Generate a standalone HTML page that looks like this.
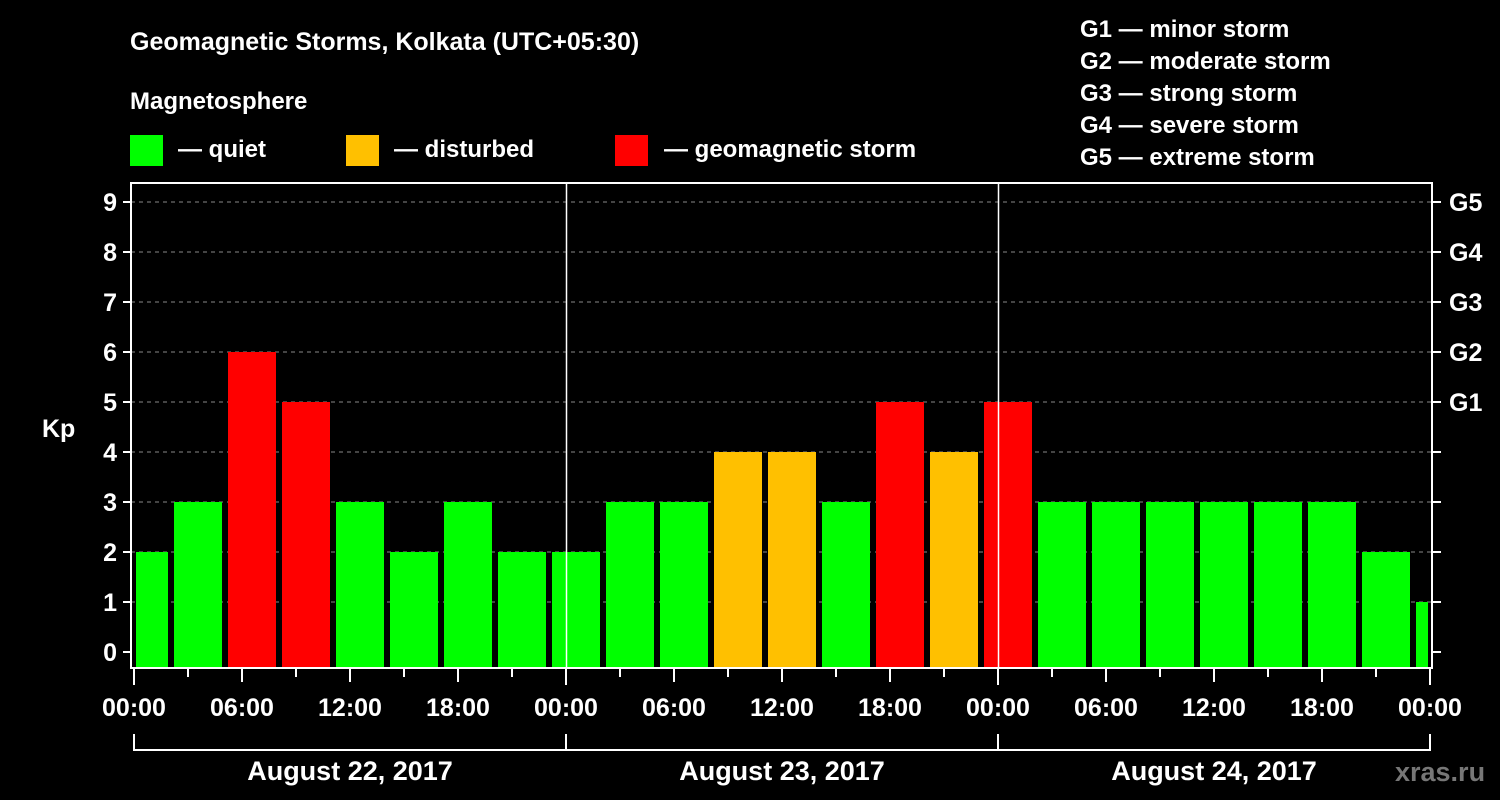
<!DOCTYPE html>
<html><head><meta charset="utf-8"><style>
body{margin:0;background:#000;width:1500px;height:800px;overflow:hidden}
svg{display:block}
text{font-family:"Liberation Sans",Arial,sans-serif;font-weight:bold;fill:#fff}
</style></head><body>
<svg id="c" width="1500" height="800">
<text x="130" y="50" font-size="25">Geomagnetic Storms, Kolkata (UTC+05:30)</text>
<text x="130" y="109" font-size="24">Magnetosphere</text>
<g><rect x="130" y="135" width="33" height="31" fill="#00ff00"/><text x="178" y="157" font-size="24">— quiet</text></g>
<g><rect x="346" y="135" width="33" height="31" fill="#ffc000"/><text x="394" y="157" font-size="24">— disturbed</text></g>
<g><rect x="615" y="135" width="33" height="31" fill="#ff0000"/><text x="664" y="157" font-size="24">— geomagnetic storm</text></g>
<g font-size="24">
<text x="1080" y="37">G1 — minor storm</text>
<text x="1080" y="69">G2 — moderate storm</text>
<text x="1080" y="101">G3 — strong storm</text>
<text x="1080" y="133">G4 — severe storm</text>
<text x="1080" y="165">G5 — extreme storm</text>
</g>
<text x="42" y="437" font-size="25">Kp</text>
<text x="1395" y="781" font-size="27" style="fill:#777">xras.ru</text>
<g id="plot"></g>
</svg>
<script>
const kpValues=[2,3,6,5,3,2,3,2,2,3,3,4,4,3,5,4,5,3,3,3,3,3,3,2,1];
const barStartHours=[-0.5,2.5,5.5,8.5,11.5,14.5,17.5,20.5,23.5,26.5,29.5,32.5,35.5,38.5,41.5,44.5,47.5,50.5,53.5,56.5,59.5,62.5,65.5,68.5,71.5];
const yTicks=[0,1,2,3,4,5,6,7,8,9];
const gLabels=["G1","G2","G3","G4","G5"];
const xTickLabels=["00:00","06:00","12:00","18:00"];
const dayLabels=["August 22, 2017","August 23, 2017","August 24, 2017"];

const NS="http://www.w3.org/2000/svg";
const g=document.getElementById('plot');
const L=131,R=1432,T=183,B=668;
const x=h=>134+18*h;
const y=v=>652-50*v;
function mk(tag,a,parent){const e=document.createElementNS(NS,tag);for(const k in a)e.setAttribute(k,a[k]);(parent||g).appendChild(e);return e;}
// grid
yTicks.forEach(v=>{ if(v>0){const l=mk('line',{x1:L,x2:R,y1:y(v),y2:y(v),stroke:'#888','stroke-dasharray':'4,4','stroke-width':1});

}});
// bars
kpValues.forEach((v,i)=>{
  let x0=x(barStartHours[i])-5, x1=x0+48;
  x0=Math.max(x0,136); x1=Math.min(x1,1428);
  const col=v>=5?'#ff0000':(v>=4?'#ffc000':'#00ff00');
  const r=mk('rect',{x:x0,y:y(v),width:x1-x0,height:B-y(v),fill:col});
  
  
});
// day separators
[24,48].forEach(h=>{const l=mk('line',{x1:x(h)+0.5,x2:x(h)+0.5,y1:T,y2:B,stroke:'#fff','stroke-width':1.5});

});
// frame
const f=mk('rect',{x:L,y:T,width:R-L,height:B-T,fill:'none',stroke:'#fff','stroke-width':2});


// y ticks/labels
yTicks.forEach(v=>{
  mk('line',{x1:L-8,x2:L,y1:y(v),y2:y(v),stroke:'#fff','stroke-width':2});
  mk('line',{x1:R,x2:R+9,y1:y(v),y2:y(v),stroke:'#fff','stroke-width':2});
  const t=mk('text',{x:L-14,y:y(v)+9,'text-anchor':'end','font-size':25});t.textContent=v;
  
  
  if(v>=5){const gt=mk('text',{x:1449,y:y(v)+9,'font-size':25});gt.textContent=gLabels[v-5];
  
  }
});
// x ticks
for(let h=0;h<=72;h+=3){
  const major=h%6===0, day=h%24===0;
  mk('line',{x1:x(h),x2:x(h),y1:B,y2:B+(day?17:(major?14:9)),stroke:'#fff','stroke-width':2});
  if(major){const t=mk('text',{x:x(h),y:716,'text-anchor':'middle','font-size':25});t.textContent=xTickLabels[(h%24)/6];
  
  }
}
// day bracket
mk('line',{x1:x(0),x2:x(72),y1:750,y2:750,stroke:'#fff','stroke-width':2});
[0,24,48,72].forEach(h=>mk('line',{x1:x(h),x2:x(h),y1:734,y2:751,stroke:'#fff','stroke-width':2}));
dayLabels.forEach((d,i)=>{const t=mk('text',{x:x(i*24+12),y:780,'text-anchor':'middle','font-size':27});t.textContent=d;

});
</script>
</body></html>
